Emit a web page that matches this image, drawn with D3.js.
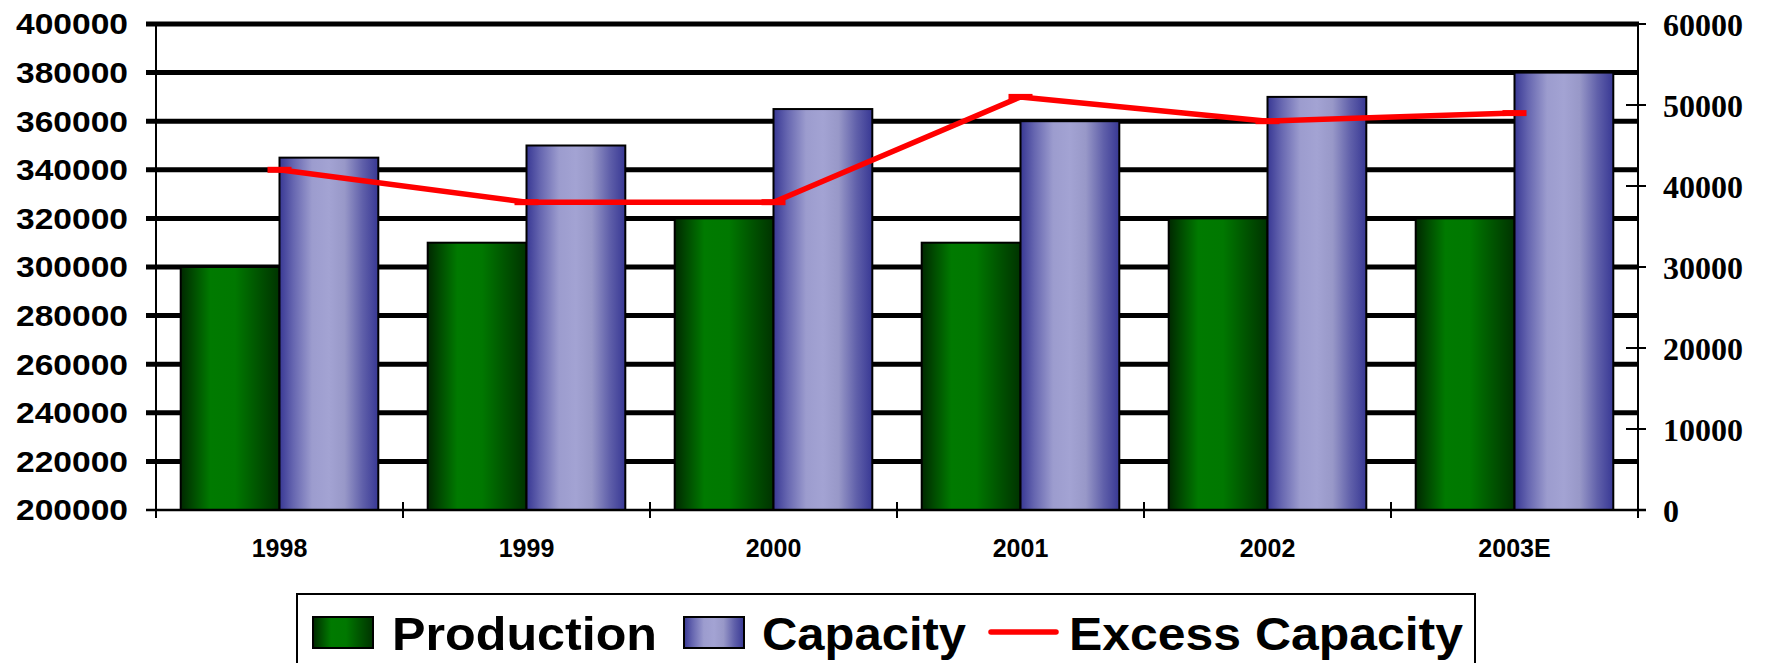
<!DOCTYPE html>
<html>
<head>
<meta charset="utf-8">
<script src="https://cdn.jsdelivr.net/npm/d3@7"></script>
<style>
  html, body { margin: 0; padding: 0; background: #ffffff; }
  svg { display: block; }
</style>
</head>
<body>
<svg id="chart" width="1769" height="663"></svg>
<script>
// ---- data ----
const categories = ["1998", "1999", "2000", "2001", "2002", "2003E"];
const production = [300000, 310000, 320000, 310000, 320000, 320000];
const capacity   = [345000, 350000, 365000, 360000, 370000, 380000];
const excessCapacity = [42000, 38000, 38000, 51000, 48000, 49000];
const leftTicks  = [200000, 220000, 240000, 260000, 280000, 300000, 320000, 340000, 360000, 380000, 400000];
const rightTicks = [0, 10000, 20000, 30000, 40000, 50000, 60000];
const seriesNames = ["Production", "Capacity", "Excess Capacity"];

// ---- layout ----
const svg = d3.select("#chart");
const plot = { left: 156, right: 1638, top: 24, bottom: 510 };

const x0 = d3.scaleBand().domain(categories).range([plot.left, plot.right]).padding(0);
const x1 = d3.scaleBand().domain(["prod", "cap"]).range([0, x0.bandwidth()]).paddingInner(0).paddingOuter(0.25);
const yL = d3.scaleLinear().domain([200000, 400000]).range([plot.bottom, plot.top]);
const yR = d3.scaleLinear().domain([0, 60000]).range([plot.bottom, plot.top]);

// gradients
const defs = svg.append("defs");
function grad(id, stops) {
  const g = defs.append("linearGradient").attr("id", id)
    .attr("x1", "0%").attr("x2", "100%").attr("y1", "0%").attr("y2", "0%");
  stops.forEach(s => g.append("stop").attr("offset", s[0]).attr("stop-color", s[1]));
}
grad("gProd", [["0%", "#002800"], ["12%", "#004a00"], ["30%", "#007a00"], ["55%", "#007800"], ["78%", "#005400"], ["100%", "#003300"]]);
grad("gCap", [["0%", "#383894"], ["14%", "#6666b0"], ["33%", "#9c9cce"], ["50%", "#a3a3d3"], ["66%", "#9898c8"], ["84%", "#6060aa"], ["100%", "#383894"]]);

// gridlines (thick) at left ticks, excluding bottom
svg.append("g").selectAll("line").data(leftTicks.filter(d => d !== 200000)).join("line")
  .attr("x1", plot.left - 10).attr("x2", plot.right + 1)
  .attr("y1", d => yL(d)).attr("y2", d => yL(d))
  .attr("stroke", "#000").attr("stroke-width", 5);

// left tick at 200000 (short thick stub)
svg.append("line").attr("x1", plot.left - 10).attr("x2", plot.left + 12)
  .attr("y1", yL(200000)).attr("y2", yL(200000)).attr("stroke", "#000").attr("stroke-width", 2);

// bars
const groups = svg.append("g").selectAll("g").data(categories).join("g")
  .attr("transform", d => `translate(${x0(d)},0)`);
groups.append("rect")
  .attr("x", x1("prod")).attr("width", x1.bandwidth())
  .attr("y", (d, i) => yL(production[i])).attr("height", (d, i) => yL(200000) - yL(production[i]))
  .attr("fill", "url(#gProd)").attr("stroke", "#000").attr("stroke-width", 2);
groups.append("rect")
  .attr("x", x1("cap")).attr("width", x1.bandwidth())
  .attr("y", (d, i) => yL(capacity[i])).attr("height", (d, i) => yL(200000) - yL(capacity[i]))
  .attr("fill", "url(#gCap)").attr("stroke", "#000").attr("stroke-width", 2);

// axes lines
svg.append("line").attr("x1", plot.left).attr("x2", plot.left).attr("y1", plot.top).attr("y2", plot.bottom + 8)
  .attr("stroke", "#000").attr("stroke-width", 2);
svg.append("line").attr("x1", plot.right).attr("x2", plot.right).attr("y1", plot.top).attr("y2", plot.bottom + 8)
  .attr("stroke", "#000").attr("stroke-width", 2);
svg.append("line").attr("x1", plot.left - 10).attr("x2", plot.right + 8).attr("y1", plot.bottom).attr("y2", plot.bottom)
  .attr("stroke", "#000").attr("stroke-width", 2.5);

// x ticks at category boundaries
const bounds = categories.map(c => x0(c)).concat([x0(categories[categories.length - 1]) + x0.bandwidth()]);
svg.append("g").selectAll("line").data(bounds.slice(1, -1)).join("line")
  .attr("x1", d => d).attr("x2", d => d).attr("y1", plot.bottom - 8).attr("y2", plot.bottom + 8)
  .attr("stroke", "#000").attr("stroke-width", 2);

// right ticks (cross)
svg.append("g").selectAll("line").data(rightTicks).join("line")
  .attr("x1", plot.right - 12).attr("x2", plot.right + 8)
  .attr("y1", d => yR(d)).attr("y2", d => yR(d))
  .attr("stroke", "#000").attr("stroke-width", 2);

// left labels
svg.append("g").selectAll("text").data(leftTicks).join("text")
  .attr("x", 128).attr("y", d => yL(d)).attr("dy", "0.36em")
  .attr("text-anchor", "end")
  .attr("textLength", 112).attr("lengthAdjust", "spacingAndGlyphs")
  .style("font-family", "'Liberation Sans', Arial, sans-serif").style("font-weight", "bold").style("font-size", "29px")
  .text(d => d);

// right labels
svg.append("g").selectAll("text").data(rightTicks).join("text")
  .attr("x", 1663).attr("y", d => yR(d)).attr("dy", "0.36em")
  .attr("text-anchor", "start")
  .style("font-family", "'Liberation Serif', 'Times New Roman', serif").style("font-weight", "bold").style("font-size", "32px")
  .text(d => d);

// x labels
svg.append("g").selectAll("text").data(categories).join("text")
  .attr("x", d => x0(d) + x0.bandwidth() / 2).attr("y", 557)
  .attr("text-anchor", "middle")
  .style("font-family", "'Liberation Sans', Arial, sans-serif").style("font-weight", "bold").style("font-size", "25px")
  .text(d => d);

// excess capacity line
const cx = d => x0(d) + x0.bandwidth() / 2;
const line = d3.line().x((d, i) => cx(categories[i])).y(d => yR(d));
svg.append("path").datum(excessCapacity).attr("d", line)
  .attr("fill", "none").attr("stroke", "#ff0000").attr("stroke-width", 5.5).attr("stroke-linejoin", "round");
svg.append("g").selectAll("line").data(excessCapacity).join("line")
  .attr("x1", (d, i) => cx(categories[i]) - 12).attr("x2", (d, i) => cx(categories[i]) + 12)
  .attr("y1", d => yR(d)).attr("y2", d => yR(d))
  .attr("stroke", "#ff0000").attr("stroke-width", 6);

// legend
const lg = svg.append("g");
lg.append("rect").attr("x", 297).attr("y", 594).attr("width", 1178).attr("height", 100)
  .attr("fill", "#fff").attr("stroke", "#000").attr("stroke-width", 2);
const legFont = s => s.style("font-family", "'Liberation Sans', Arial, sans-serif").style("font-weight", "bold").style("font-size", "46px");
lg.append("rect").attr("x", 313).attr("y", 617).attr("width", 60).attr("height", 31)
  .attr("fill", "url(#gProd)").attr("stroke", "#000").attr("stroke-width", 2);
lg.append("text").attr("x", 392).attr("y", 650).attr("textLength", 265).attr("lengthAdjust", "spacingAndGlyphs")
  .call(legFont).text(seriesNames[0]);
lg.append("rect").attr("x", 684).attr("y", 617).attr("width", 60).attr("height", 31)
  .attr("fill", "url(#gCap)").attr("stroke", "#000").attr("stroke-width", 2);
lg.append("text").attr("x", 762).attr("y", 650).attr("textLength", 204).attr("lengthAdjust", "spacingAndGlyphs")
  .call(legFont).text(seriesNames[1]);
lg.append("line").attr("x1", 991).attr("x2", 1056).attr("y1", 632).attr("y2", 632)
  .attr("stroke", "#ff0000").attr("stroke-width", 5.5).attr("stroke-linecap", "round");
lg.append("text").attr("x", 1069).attr("y", 650).attr("textLength", 394).attr("lengthAdjust", "spacingAndGlyphs")
  .call(legFont).text(seriesNames[2]);
</script>
</body>
</html>
